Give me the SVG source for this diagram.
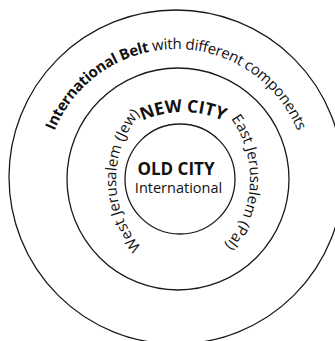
<svg xmlns="http://www.w3.org/2000/svg" xmlns:xlink="http://www.w3.org/1999/xlink" width="335" height="341" viewBox="0 0 335 341">
  <style>
    .ring { fill: none; stroke: #1a1a1a; stroke-width: 1.3; }
    .t { font-family: "Open Sans", "Noto Sans", sans-serif; fill: #111; }
    .b { font-weight: 700; }
  </style>
  <defs>
    <path id="arcOuter" d="M 45 180 A 131 131 0 0 1 307 180"/>
    <path id="arcWest" d="M 218 282 A 102 102 0 0 1 218 78"/>
    <path id="arcEast" d="M 148 76 A 102 102 0 0 1 148 280"/>
    <path id="arcNew" d="M 86 209 A 97 97 0 0 1 280 209"/>
  </defs>
  <rect width="335" height="341" fill="#fff"/>
  <g id="belt">
    <circle class="ring" cx="176" cy="177" r="167"/>
    <text class="t" font-size="15" letter-spacing="-0.3" text-anchor="middle"><textPath xlink:href="#arcOuter" startOffset="50%"><tspan class="b">International Belt</tspan> with different components</textPath></text>
  </g>
  <g id="new-city">
    <circle class="ring" cx="178" cy="179" r="111"/>
    <text class="t b" font-size="17.5" text-anchor="middle"><textPath xlink:href="#arcNew" startOffset="50%">NEW CITY</textPath></text>
    <text class="t" font-size="15" text-anchor="middle"><textPath xlink:href="#arcWest" startOffset="159">West Jerusalem (Jew)</textPath></text>
    <text class="t" font-size="15" text-anchor="middle"><textPath xlink:href="#arcEast" startOffset="165">East Jerusalem (Pal)</textPath></text>
  </g>
  <g id="old-city">
    <circle class="ring" cx="180" cy="179" r="55"/>
    <text class="t b" x="176" y="175" font-size="17" text-anchor="middle">OLD CITY</text>
    <text class="t" x="178.5" y="193" font-size="14.5" text-anchor="middle">International</text>
  </g>
</svg>
